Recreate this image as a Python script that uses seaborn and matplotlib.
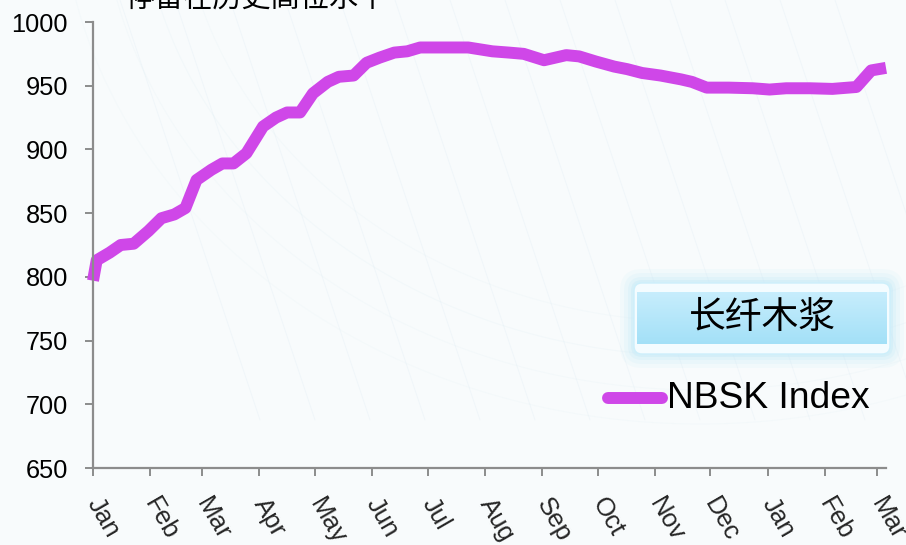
import numpy as np
import pandas as pd
import matplotlib
matplotlib.use("Agg")
import matplotlib.pyplot as plt
import matplotlib.dates as mdates
from matplotlib.patches import FancyBboxPatch
from matplotlib.lines import Line2D
import seaborn as sns

# NBSK pulp price index (USD/t)
dates = [
    "2010-01-01", "2010-01-03", "2010-01-10", "2010-01-16", "2010-01-23", "2010-01-31",
    "2010-02-07", "2010-02-14", "2010-02-20", "2010-02-26", "2010-03-06", "2010-03-12",
    "2010-03-18", "2010-03-25", "2010-04-03", "2010-04-10", "2010-04-16", "2010-04-23",
    "2010-04-30", "2010-05-08", "2010-05-14", "2010-05-22", "2010-05-29", "2010-06-05",
    "2010-06-13", "2010-06-20", "2010-06-27", "2010-07-08", "2010-07-23", "2010-08-05",
    "2010-08-14", "2010-08-22", "2010-09-02", "2010-09-14", "2010-09-21", "2010-09-30",
    "2010-10-10", "2010-10-17", "2010-10-25", "2010-11-04", "2010-11-15", "2010-11-21",
    "2010-11-29", "2010-12-11", "2010-12-24", "2011-01-02", "2011-01-11", "2011-01-24",
    "2011-02-05", "2011-02-18", "2011-02-26", "2011-03-06",
]
nbsk = [
    797, 813, 819, 825, 826, 836,
    846, 849, 854, 876, 884, 889,
    889, 897, 918, 925, 929, 929,
    944, 953, 957, 958, 968, 972,
    976, 977, 980, 980, 980, 977,
    976, 975, 970, 974, 973, 969,
    965, 963, 960, 958, 955, 953,
    948.5, 948.5, 948, 947, 948, 948,
    947.5, 949, 962, 964,
]
series_name = "NBSK Index"
box_label = "长纤木浆"
headline = "停留在历史高位水平"
y_ticks = [650, 700, 750, 800, 850, 900, 950, 1000]

line_color = "#CF47E8"
axis_color = "#8C8C8C"

df = pd.DataFrame({"date": pd.to_datetime(dates), "value": nbsk})

sns.set_theme(style="white")
plt.rcParams["font.family"] = ["Liberation Sans", "Noto Sans CJK SC", "DejaVu Sans"]

W, H = 906, 545
fig = plt.figure(figsize=(W / 100, H / 100), dpi=100)
fig.patch.set_facecolor("#F8FBFC")

# faint decorative arcs in the background
bg = fig.add_axes([0, 0, 1, 1], zorder=-5)
bg.set_xlim(0, W)
bg.set_ylim(H, 0)
bg.axis("off")
t = np.linspace(0, 2 * np.pi, 400)
for r, a in [(560, 0.10), (600, 0.08), (640, 0.07), (520, 0.08)]:
    bg.plot(700 + r * np.cos(t), -120 + 0.85 * r * np.sin(t), color="#BFDDEA", lw=0.8, alpha=a)
for k in range(14):
    x0 = 120 + k * 55
    bg.plot([x0, x0 + 140], [0, 420], color="#D4E7EF", lw=0.6, alpha=0.25)

ax = fig.add_axes([93 / W, 1 - 468 / H, (886 - 93) / W, (468 - 22) / H])
ax.set_facecolor("none")

sns.lineplot(data=df, x="date", y="value", ax=ax, color=line_color,
             linewidth=8.6, legend=False)
for ln in ax.get_lines():
    ln.set_solid_capstyle("butt")
    ln.set_solid_joinstyle("round")
    ln.set_clip_on(False)

ax.set_xlim(pd.Timestamp("2010-01-01"), pd.Timestamp("2011-03-06"))
ax.set_ylim(650, 1000)
ax.set_yticks(y_ticks)
ax.set_yticklabels([str(v) for v in y_ticks], fontsize=18.3, color="black")

ax.xaxis.set_major_locator(mdates.MonthLocator())
ax.xaxis.set_major_formatter(mdates.DateFormatter("%b"))
for lab in ax.get_xticklabels():
    lab.set_rotation(-60)
    lab.set_ha("left")
    lab.set_va("center")
    lab.set_rotation_mode("anchor")
    lab.set_fontsize(18.6)

ax.set_xlabel("")
ax.set_ylabel("")
for side in ["top", "right"]:
    ax.spines[side].set_visible(False)
for side in ["left", "bottom"]:
    ax.spines[side].set_color(axis_color)
    ax.spines[side].set_linewidth(1.6)
ax.tick_params(axis="both", which="major", direction="out", length=6,
               width=1.4, color=axis_color, left=True, bottom=True)
ax.tick_params(axis="y", pad=12)
ax.tick_params(axis="x", pad=17)
ax.grid(False)

# headline, partly above the top edge
fig.text(125 / W, 1 - 14 / H, headline, fontsize=21, color="black",
         family=["Noto Sans CJK SC"], va="bottom", ha="left")

# glowing label box
ov = fig.add_axes([0, 0, 1, 1], zorder=5)
ov.set_xlim(0, W)
ov.set_ylim(H, 0)
ov.axis("off")
bx0, by0, bx1, by1 = 634, 283, 890, 354
for g, a in [(14, 0.10), (10, 0.14), (6, 0.2), (3, 0.3)]:
    ov.add_patch(FancyBboxPatch((bx0 - g, by0 - g), bx1 - bx0 + 2 * g, by1 - by0 + 2 * g,
                                boxstyle="round,pad=0,rounding_size=%d" % (8 + g),
                                fc="#BDE8F8", ec="none", alpha=a))
ov.add_patch(FancyBboxPatch((bx0, by0), bx1 - bx0, by1 - by0,
                            boxstyle="round,pad=0,rounding_size=8",
                            fc="#F4FCFF", ec="#CDEFFB", lw=1.0))
# soft vertical gradient inside the band
band = np.linspace(0, 1, 64)[:, None]
c_top = np.array([0.78, 0.93, 0.99])
c_bot = np.array([0.64, 0.88, 0.97])
grad = c_top[None, None, :] * (1 - band[..., None]) + c_bot[None, None, :] * band[..., None]
grad = np.repeat(grad, 2, axis=1)
ov.imshow(grad, extent=(bx0 + 3, bx1 - 3, by1 - 10, by0 + 9), aspect="auto",
          interpolation="bilinear", zorder=2)
ov.set_xlim(0, W)
ov.set_ylim(H, 0)
ov.text((bx0 + bx1) / 2, (by0 + by1) / 2 - 1, box_label, fontsize=26.5, color="black",
        family=["Noto Sans CJK SC"], ha="center", va="center", zorder=3)

# series key
ov.add_line(Line2D([608, 662], [398, 398], color=line_color, lw=8.6,
                   solid_capstyle="round"))
ov.text(667, 399, series_name, fontsize=26.8, color="black", ha="left", va="center")

fig.savefig("out.png", dpi=100, facecolor=fig.get_facecolor())
